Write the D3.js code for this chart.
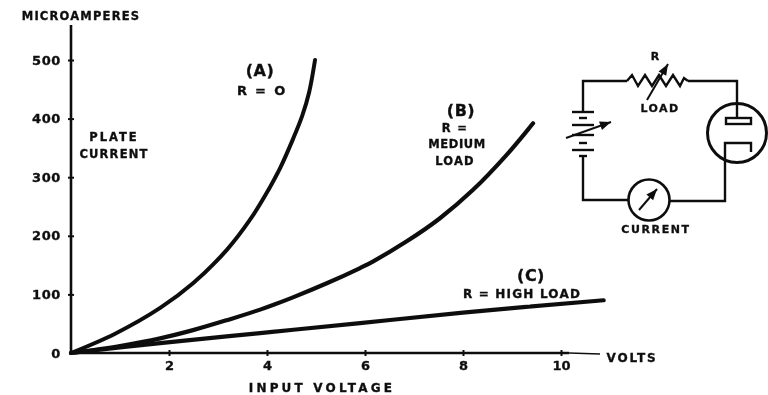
<!DOCTYPE html>
<html lang="en">
<head>
<meta charset="UTF-8">
<title>Plate current vs input voltage</title>
<script src="https://cdn.jsdelivr.net/npm/d3@7/dist/d3.min.js"></script>
<style>
    html, body { margin: 0; padding: 0; background: #fff; }
    svg { display: block; }
    text { font-family: "DejaVu Sans", sans-serif; font-weight: bold; fill: #111; stroke: #111; stroke-width: 0.35px; }
</style>
</head>
<body>
<svg id="chart" width="768" height="395"></svg>
<script>
// values
const xTicks = [2, 4, 6, 8, 10];
const yTicks = [0, 100, 200, 300, 400, 500];

const voltsA = [0, 0.9, 1.82, 2.49, 3.18, 3.65, 4.06, 4.27, 4.53, 4.72, 4.86, 4.98];
const currentA = [0, 33, 77, 119, 176, 227, 283, 316, 365, 405, 445, 500];

const voltsB = [0, 1, 1.82, 2.49, 3.18, 3.86, 4.53, 5.22, 5.9, 6.16, 6.86, 7.53, 8.2, 8.9, 9.43];
const currentB = [0, 12, 25, 39, 56, 74, 95, 119, 145, 156, 191, 230, 278, 339, 392];

const voltsC = [0, 1.82, 3.86, 5.9, 8, 10.87];
const currentC = [0, 17, 34, 51, 69, 90];

const width = 768, height = 395;
const svg = d3.select('#chart');

svg.append('defs').append('filter').attr('id', 'scan')
    .attr('x', 0).attr('y', 0).attr('width', 1).attr('height', 1)
    .append('feGaussianBlur').attr('stdDeviation', 0.5);

const g = svg.append('g').attr('filter', 'url(#scan)');
g.append('rect').attr('width', width).attr('height', height).attr('fill', '#fff');

const x = d3.scaleLinear().domain([0, 10]).range([71, 561]);
const y = d3.scaleLinear().domain([0, 500]).range([353, 60]);

// axes
const axisX = g.append('g').attr('transform', `translate(0,${y(0)})`)
    .call(d3.axisBottom(x).tickValues(xTicks).tickSize(0).tickPadding(8));
const axisY = g.append('g').attr('transform', `translate(${x(0)},0)`)
    .call(d3.axisLeft(y).tickValues(yTicks).tickSize(0).tickPadding(10));

axisX.select('.domain').remove();
axisY.select('.domain').remove();
axisX.selectAll('text').attr('font-size', 13).attr('font-family', null);
axisY.selectAll('text').attr('font-size', 13).attr('letter-spacing', 0.6).attr('font-family', null);

axisX.selectAll('.tick').append('line')
    .attr('y1', -3).attr('y2', 3).attr('stroke', '#111').attr('stroke-width', 2);
axisY.selectAll('.tick').filter(d => d > 0).append('line')
    .attr('x1', -3).attr('x2', 3).attr('stroke', '#111').attr('stroke-width', 2);

g.append('line').attr('x1', x(0)).attr('x2', x(0)).attr('y1', 25).attr('y2', y(0))
    .attr('stroke', '#111').attr('stroke-width', 2.6);
g.append('line').attr('x1', x(0)).attr('x2', x(10) + 8).attr('y1', y(0)).attr('y2', y(0))
    .attr('stroke', '#111').attr('stroke-width', 2.4);
g.append('line').attr('x1', x(10) + 8).attr('x2', 600).attr('y1', y(0)).attr('y2', y(0) + 1)
    .attr('stroke', '#111').attr('stroke-width', 1.3);

// curves
const line = d3.line().x(d => x(d[0])).y(d => y(d[1])).curve(d3.curveCatmullRom.alpha(0.5));
const curves = [
    { v: voltsA, c: currentA, w: 4 },
    { v: voltsB, c: currentB, w: 4.2 },
    { v: voltsC, c: currentC, w: 4.2 }
];
curves.forEach(s => {
    g.append('path')
        .datum(s.v.map((v, i) => [v, s.c[i]]))
        .attr('d', line)
        .attr('fill', 'none')
        .attr('stroke', '#111')
        .attr('stroke-width', s.w)
        .attr('stroke-linecap', 'round');
});

// labels
const label = (txt, px, py, size, spacing, anchor) => g.append('text')
    .attr('x', px).attr('y', py)
    .attr('font-size', size)
    .attr('letter-spacing', spacing || 0)
    .attr('text-anchor', anchor || 'middle')
    .text(txt);

label('MICROAMPERES', 81, 20, 11.5, 1.2);
label('PLATE', 114, 141, 11.5, 2);
label('CURRENT', 114, 158, 11.5, 1.2);
label('(A)', 260, 76, 16, 0.5);
label('R =  O', 262, 95, 13, 1.8);
label('(B)', 461, 116, 16, 0.5);
label('R  =', 455, 132, 11.5, 1.4);
label('MEDIUM', 457, 148, 11.5, 0.6);
label('LOAD', 455, 165, 11.5, 1.2);
label('(C)', 531, 281, 16, 0.5);
label('R = HIGH  LOAD', 522, 298, 12, 1.2);
label('VOLTS', 632, 362, 12, 1.8);
label('INPUT  VOLTAGE', 322, 392, 12, 3.2);

// circuit diagram, picture coordinates
const wire = g.append('g').attr('fill', 'none').attr('stroke', '#111').attr('stroke-width', 2.4);
const pathOf = d3.line();
const wires = [
    [[627, 81], [583, 81], [583, 111]],
    [[583, 155], [583, 200], [628, 200]],
    [[670, 201], [725, 201], [725, 143], [751, 143], [751, 152]],
    [[688, 81], [737, 81], [737, 118]],
    [[627, 81], [632, 75], [638, 86], [645, 75], [652, 86], [659, 75], [666, 86], [673, 75], [680, 86], [684, 78], [688, 81]]
];
wires.forEach(w => wire.append('path').attr('d', pathOf(w)));

wire.append('circle').attr('cx', 737).attr('cy', 133).attr('r', 29.5).attr('stroke-width', 3);
wire.append('circle').attr('cx', 649).attr('cy', 200).attr('r', 20.5).attr('stroke-width', 2.6);
wire.append('rect').attr('x', 726).attr('y', 118).attr('width', 25).attr('height', 6);

// battery plates: [y, half width]
const plates = [[112, 11], [118, 4], [125, 11], [135, 11], [143, 4], [150, 11], [156, 4]];
plates.forEach(p => wire.append('line')
    .attr('x1', 583 - p[1]).attr('x2', 583 + p[1])
    .attr('y1', p[0]).attr('y2', p[0]));

// adjustable arrows
const arrows = [
    [[566, 138], [611, 122]],
    [[647, 100], [668, 64]],
    [[639, 210], [657, 189]]
];
arrows.forEach(a => {
    const ang = Math.atan2(a[1][1] - a[0][1], a[1][0] - a[0][0]);
    wire.append('path').attr('d', pathOf(a)).attr('stroke-width', 2);
    const head = [
        a[1],
        [a[1][0] - 12 * Math.cos(ang - 0.38), a[1][1] - 12 * Math.sin(ang - 0.38)],
        [a[1][0] - 12 * Math.cos(ang + 0.38), a[1][1] - 12 * Math.sin(ang + 0.38)]
    ];
    g.append('path').attr('d', pathOf(head) + 'Z').attr('fill', '#111');
});

label('R', 655, 60, 11, 0);
label('LOAD', 660, 112, 11, 1.4);
label('CURRENT', 656, 233, 11, 1.6);
</script>
</body>
</html>
